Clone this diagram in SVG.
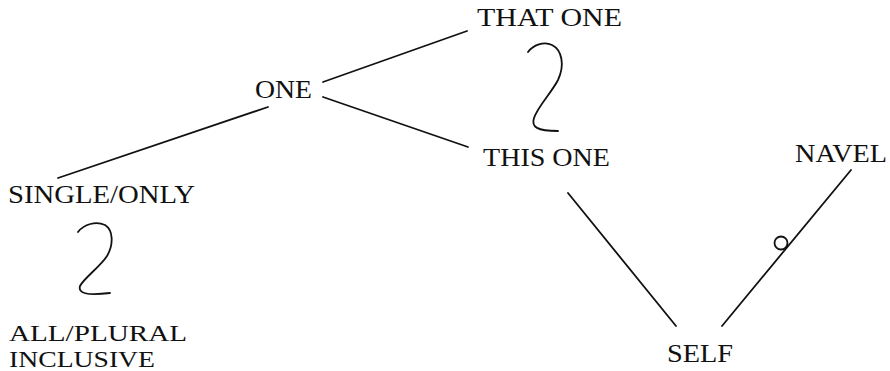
<svg xmlns="http://www.w3.org/2000/svg" width="890" height="371" viewBox="0 0 890 371">
<style>
text{font-family:"Liberation Serif","Times New Roman",serif;font-size:25px;fill:#111}
text.sm{font-size:23px}
.ln{stroke:#111;stroke-width:1.8;fill:none;stroke-linecap:round}
</style>
<rect width="890" height="371" fill="#fff"/>
<g id="connectors">
<line class="ln" x1="323" y1="82" x2="467" y2="31"/>
<line class="ln" x1="323" y1="97" x2="468" y2="147"/>
<line class="ln" x1="268" y1="107" x2="58" y2="178"/>
<line class="ln" x1="568" y1="193" x2="676" y2="326"/>
<line class="ln" x1="722" y1="326" x2="851" y2="170"/>
<circle class="ln" cx="781" cy="243" r="6.5"/>
<path class="ln" d="M528,52 C533,45 544,41 552,45 C562,50 565,65 558,80 C552,92 538,106 534,118 C531,127 537,131 558,131"/>
<path class="ln" d="M78,232 C84,224 96,221 105,225 C113,230 114,244 107,256 C100,267 84,278 80,286 C78,293 86,296 110,293"/>
</g>
<g id="n-that-one"><text x="477" y="25.5" textLength="145" lengthAdjust="spacingAndGlyphs">THAT ONE</text></g>
<g id="n-one"><text x="255" y="98" textLength="57" lengthAdjust="spacingAndGlyphs">ONE</text></g>
<g id="n-this-one"><text x="483" y="166" textLength="127" lengthAdjust="spacingAndGlyphs">THIS ONE</text></g>
<g id="n-single"><text x="8" y="203" textLength="187" lengthAdjust="spacingAndGlyphs">SINGLE/ONLY</text></g>
<g id="n-all"><text class="sm" x="9" y="341" textLength="178" lengthAdjust="spacingAndGlyphs">ALL/PLURAL</text><text class="sm" x="9" y="367" textLength="146" lengthAdjust="spacingAndGlyphs">INCLUSIVE</text></g>
<g id="n-self"><text x="667" y="362" textLength="66" lengthAdjust="spacingAndGlyphs">SELF</text></g>
<g id="n-navel"><text x="795" y="162" textLength="92" lengthAdjust="spacingAndGlyphs">NAVEL</text></g>
</svg>
